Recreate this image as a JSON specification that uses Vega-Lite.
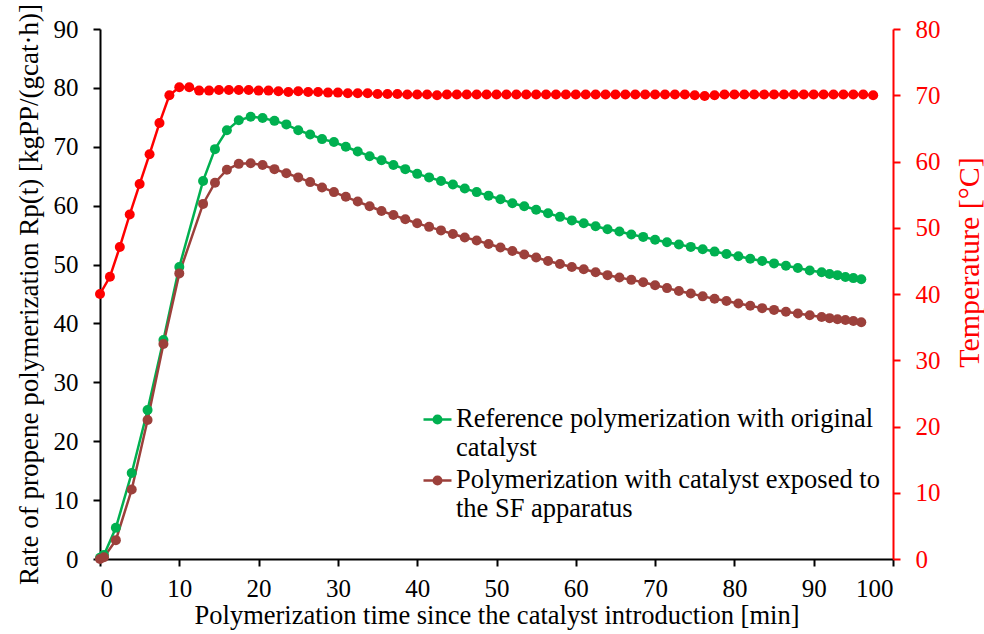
{
  "$schema": "https://vega.github.io/schema/vega-lite/v6.json",
  "autosize": {"type": "none"},
  "width": 793,
  "height": 530,
  "padding": {"left": 100, "top": 29, "right": 91, "bottom": 75},
  "background": "white",
  "config": {
    "view": {"stroke": null},
    "axis": {
      "grid": false,
      "labelFont": "Liberation Serif",
      "labelFontSize": 25,
      "labelColor": "black",
      "titleFont": "Liberation Serif",
      "titleFontSize": 26.5,
      "titleFontWeight": "normal",
      "titleColor": "black",
      "domainColor": "black",
      "domainWidth": 2,
      "tickColor": "black",
      "tickWidth": 2,
      "tickSize": 7
    },
    "legend": {
      "labelFont": "Liberation Serif",
      "labelFontSize": 26.5,
      "labelColor": "black",
      "labelLimit": 700
    }
  },
  "datasets": {
    "rate": [
      {"time": 0, "series": "Reference polymerization with original catalyst", "rate": 0.2},
      {"time": 0.5, "series": "Reference polymerization with original catalyst", "rate": 0.7},
      {"time": 2, "series": "Reference polymerization with original catalyst", "rate": 5.3},
      {"time": 4, "series": "Reference polymerization with original catalyst", "rate": 14.6},
      {"time": 6, "series": "Reference polymerization with original catalyst", "rate": 25.3},
      {"time": 8, "series": "Reference polymerization with original catalyst", "rate": 37.2},
      {"time": 10, "series": "Reference polymerization with original catalyst", "rate": 49.6},
      {"time": 13, "series": "Reference polymerization with original catalyst", "rate": 64.2},
      {"time": 14.5, "series": "Reference polymerization with original catalyst", "rate": 69.6},
      {"time": 16, "series": "Reference polymerization with original catalyst", "rate": 72.8},
      {"time": 17.5, "series": "Reference polymerization with original catalyst", "rate": 74.5},
      {"time": 19, "series": "Reference polymerization with original catalyst", "rate": 75.1},
      {"time": 20.5, "series": "Reference polymerization with original catalyst", "rate": 74.9},
      {"time": 22, "series": "Reference polymerization with original catalyst", "rate": 74.4},
      {"time": 23.5, "series": "Reference polymerization with original catalyst", "rate": 73.8},
      {"time": 25, "series": "Reference polymerization with original catalyst", "rate": 72.8},
      {"time": 26.5, "series": "Reference polymerization with original catalyst", "rate": 72.1},
      {"time": 28, "series": "Reference polymerization with original catalyst", "rate": 71.3},
      {"time": 29.5, "series": "Reference polymerization with original catalyst", "rate": 70.8},
      {"time": 31, "series": "Reference polymerization with original catalyst", "rate": 70.0},
      {"time": 32.5, "series": "Reference polymerization with original catalyst", "rate": 69.2},
      {"time": 34, "series": "Reference polymerization with original catalyst", "rate": 68.4},
      {"time": 35.5, "series": "Reference polymerization with original catalyst", "rate": 67.7},
      {"time": 37, "series": "Reference polymerization with original catalyst", "rate": 66.9},
      {"time": 38.5, "series": "Reference polymerization with original catalyst", "rate": 66.2},
      {"time": 40, "series": "Reference polymerization with original catalyst", "rate": 65.4},
      {"time": 41.5, "series": "Reference polymerization with original catalyst", "rate": 64.8},
      {"time": 43, "series": "Reference polymerization with original catalyst", "rate": 64.2},
      {"time": 44.5, "series": "Reference polymerization with original catalyst", "rate": 63.6},
      {"time": 46, "series": "Reference polymerization with original catalyst", "rate": 62.9},
      {"time": 47.5, "series": "Reference polymerization with original catalyst", "rate": 62.3},
      {"time": 49, "series": "Reference polymerization with original catalyst", "rate": 61.7},
      {"time": 50.5, "series": "Reference polymerization with original catalyst", "rate": 61.1},
      {"time": 52, "series": "Reference polymerization with original catalyst", "rate": 60.4},
      {"time": 53.5, "series": "Reference polymerization with original catalyst", "rate": 59.9},
      {"time": 55, "series": "Reference polymerization with original catalyst", "rate": 59.3},
      {"time": 56.5, "series": "Reference polymerization with original catalyst", "rate": 58.7},
      {"time": 58, "series": "Reference polymerization with original catalyst", "rate": 58.1},
      {"time": 59.5, "series": "Reference polymerization with original catalyst", "rate": 57.5},
      {"time": 61, "series": "Reference polymerization with original catalyst", "rate": 57.0},
      {"time": 62.5, "series": "Reference polymerization with original catalyst", "rate": 56.5},
      {"time": 64, "series": "Reference polymerization with original catalyst", "rate": 56.0},
      {"time": 65.5, "series": "Reference polymerization with original catalyst", "rate": 55.6},
      {"time": 67, "series": "Reference polymerization with original catalyst", "rate": 55.1},
      {"time": 68.5, "series": "Reference polymerization with original catalyst", "rate": 54.7},
      {"time": 70, "series": "Reference polymerization with original catalyst", "rate": 54.2},
      {"time": 71.5, "series": "Reference polymerization with original catalyst", "rate": 53.8},
      {"time": 73, "series": "Reference polymerization with original catalyst", "rate": 53.4},
      {"time": 74.5, "series": "Reference polymerization with original catalyst", "rate": 53.0},
      {"time": 76, "series": "Reference polymerization with original catalyst", "rate": 52.6},
      {"time": 77.5, "series": "Reference polymerization with original catalyst", "rate": 52.2},
      {"time": 79, "series": "Reference polymerization with original catalyst", "rate": 51.8},
      {"time": 80.5, "series": "Reference polymerization with original catalyst", "rate": 51.4},
      {"time": 82, "series": "Reference polymerization with original catalyst", "rate": 51.0},
      {"time": 83.5, "series": "Reference polymerization with original catalyst", "rate": 50.6},
      {"time": 85, "series": "Reference polymerization with original catalyst", "rate": 50.2},
      {"time": 86.5, "series": "Reference polymerization with original catalyst", "rate": 49.8},
      {"time": 88, "series": "Reference polymerization with original catalyst", "rate": 49.4},
      {"time": 89.5, "series": "Reference polymerization with original catalyst", "rate": 49.0},
      {"time": 91, "series": "Reference polymerization with original catalyst", "rate": 48.7},
      {"time": 92, "series": "Reference polymerization with original catalyst", "rate": 48.4},
      {"time": 93, "series": "Reference polymerization with original catalyst", "rate": 48.2},
      {"time": 94, "series": "Reference polymerization with original catalyst", "rate": 47.9},
      {"time": 95, "series": "Reference polymerization with original catalyst", "rate": 47.7},
      {"time": 96, "series": "Reference polymerization with original catalyst", "rate": 47.5},
      {"time": 0, "series": "Polymerization with catalyst exposed to the SF apparatus", "rate": 0.0},
      {"time": 0.5, "series": "Polymerization with catalyst exposed to the SF apparatus", "rate": 0.3},
      {"time": 2, "series": "Polymerization with catalyst exposed to the SF apparatus", "rate": 3.2},
      {"time": 4, "series": "Polymerization with catalyst exposed to the SF apparatus", "rate": 11.8},
      {"time": 6, "series": "Polymerization with catalyst exposed to the SF apparatus", "rate": 23.6},
      {"time": 8, "series": "Polymerization with catalyst exposed to the SF apparatus", "rate": 36.5},
      {"time": 10, "series": "Polymerization with catalyst exposed to the SF apparatus", "rate": 48.5},
      {"time": 13, "series": "Polymerization with catalyst exposed to the SF apparatus", "rate": 60.3},
      {"time": 14.5, "series": "Polymerization with catalyst exposed to the SF apparatus", "rate": 63.9},
      {"time": 16, "series": "Polymerization with catalyst exposed to the SF apparatus", "rate": 66.1},
      {"time": 17.5, "series": "Polymerization with catalyst exposed to the SF apparatus", "rate": 67.1},
      {"time": 19, "series": "Polymerization with catalyst exposed to the SF apparatus", "rate": 67.2},
      {"time": 20.5, "series": "Polymerization with catalyst exposed to the SF apparatus", "rate": 66.9},
      {"time": 22, "series": "Polymerization with catalyst exposed to the SF apparatus", "rate": 66.2},
      {"time": 23.5, "series": "Polymerization with catalyst exposed to the SF apparatus", "rate": 65.5},
      {"time": 25, "series": "Polymerization with catalyst exposed to the SF apparatus", "rate": 64.8},
      {"time": 26.5, "series": "Polymerization with catalyst exposed to the SF apparatus", "rate": 64.0},
      {"time": 28, "series": "Polymerization with catalyst exposed to the SF apparatus", "rate": 63.1},
      {"time": 29.5, "series": "Polymerization with catalyst exposed to the SF apparatus", "rate": 62.3},
      {"time": 31, "series": "Polymerization with catalyst exposed to the SF apparatus", "rate": 61.5},
      {"time": 32.5, "series": "Polymerization with catalyst exposed to the SF apparatus", "rate": 60.7},
      {"time": 34, "series": "Polymerization with catalyst exposed to the SF apparatus", "rate": 59.9},
      {"time": 35.5, "series": "Polymerization with catalyst exposed to the SF apparatus", "rate": 59.1},
      {"time": 37, "series": "Polymerization with catalyst exposed to the SF apparatus", "rate": 58.4},
      {"time": 38.5, "series": "Polymerization with catalyst exposed to the SF apparatus", "rate": 57.7},
      {"time": 40, "series": "Polymerization with catalyst exposed to the SF apparatus", "rate": 57.0},
      {"time": 41.5, "series": "Polymerization with catalyst exposed to the SF apparatus", "rate": 56.4},
      {"time": 43, "series": "Polymerization with catalyst exposed to the SF apparatus", "rate": 55.8},
      {"time": 44.5, "series": "Polymerization with catalyst exposed to the SF apparatus", "rate": 55.2},
      {"time": 46, "series": "Polymerization with catalyst exposed to the SF apparatus", "rate": 54.6},
      {"time": 47.5, "series": "Polymerization with catalyst exposed to the SF apparatus", "rate": 54.1},
      {"time": 49, "series": "Polymerization with catalyst exposed to the SF apparatus", "rate": 53.5},
      {"time": 50.5, "series": "Polymerization with catalyst exposed to the SF apparatus", "rate": 52.9},
      {"time": 52, "series": "Polymerization with catalyst exposed to the SF apparatus", "rate": 52.3},
      {"time": 53.5, "series": "Polymerization with catalyst exposed to the SF apparatus", "rate": 51.7},
      {"time": 55, "series": "Polymerization with catalyst exposed to the SF apparatus", "rate": 51.2},
      {"time": 56.5, "series": "Polymerization with catalyst exposed to the SF apparatus", "rate": 50.6},
      {"time": 58, "series": "Polymerization with catalyst exposed to the SF apparatus", "rate": 50.1},
      {"time": 59.5, "series": "Polymerization with catalyst exposed to the SF apparatus", "rate": 49.6},
      {"time": 61, "series": "Polymerization with catalyst exposed to the SF apparatus", "rate": 49.2},
      {"time": 62.5, "series": "Polymerization with catalyst exposed to the SF apparatus", "rate": 48.7},
      {"time": 64, "series": "Polymerization with catalyst exposed to the SF apparatus", "rate": 48.2},
      {"time": 65.5, "series": "Polymerization with catalyst exposed to the SF apparatus", "rate": 47.8},
      {"time": 67, "series": "Polymerization with catalyst exposed to the SF apparatus", "rate": 47.4},
      {"time": 68.5, "series": "Polymerization with catalyst exposed to the SF apparatus", "rate": 47.0},
      {"time": 70, "series": "Polymerization with catalyst exposed to the SF apparatus", "rate": 46.5},
      {"time": 71.5, "series": "Polymerization with catalyst exposed to the SF apparatus", "rate": 46.0},
      {"time": 73, "series": "Polymerization with catalyst exposed to the SF apparatus", "rate": 45.5},
      {"time": 74.5, "series": "Polymerization with catalyst exposed to the SF apparatus", "rate": 45.1},
      {"time": 76, "series": "Polymerization with catalyst exposed to the SF apparatus", "rate": 44.6},
      {"time": 77.5, "series": "Polymerization with catalyst exposed to the SF apparatus", "rate": 44.2},
      {"time": 79, "series": "Polymerization with catalyst exposed to the SF apparatus", "rate": 43.8},
      {"time": 80.5, "series": "Polymerization with catalyst exposed to the SF apparatus", "rate": 43.4},
      {"time": 82, "series": "Polymerization with catalyst exposed to the SF apparatus", "rate": 43.0},
      {"time": 83.5, "series": "Polymerization with catalyst exposed to the SF apparatus", "rate": 42.6},
      {"time": 85, "series": "Polymerization with catalyst exposed to the SF apparatus", "rate": 42.3},
      {"time": 86.5, "series": "Polymerization with catalyst exposed to the SF apparatus", "rate": 42.0},
      {"time": 88, "series": "Polymerization with catalyst exposed to the SF apparatus", "rate": 41.7},
      {"time": 89.5, "series": "Polymerization with catalyst exposed to the SF apparatus", "rate": 41.4},
      {"time": 91, "series": "Polymerization with catalyst exposed to the SF apparatus", "rate": 41.1},
      {"time": 92, "series": "Polymerization with catalyst exposed to the SF apparatus", "rate": 40.9},
      {"time": 93, "series": "Polymerization with catalyst exposed to the SF apparatus", "rate": 40.7},
      {"time": 94, "series": "Polymerization with catalyst exposed to the SF apparatus", "rate": 40.6},
      {"time": 95, "series": "Polymerization with catalyst exposed to the SF apparatus", "rate": 40.4},
      {"time": 96, "series": "Polymerization with catalyst exposed to the SF apparatus", "rate": 40.2}
    ],
    "temperature": [
      {"time": 0, "temp": 40.0},
      {"time": 1.25, "temp": 42.6},
      {"time": 2.5, "temp": 47.1},
      {"time": 3.75, "temp": 52.0},
      {"time": 5, "temp": 56.6},
      {"time": 6.25, "temp": 61.1},
      {"time": 7.5, "temp": 65.8},
      {"time": 8.75, "temp": 70.0},
      {"time": 10, "temp": 71.2},
      {"time": 11.25, "temp": 71.2},
      {"time": 12.5, "temp": 70.7},
      {"time": 13.75, "temp": 70.7},
      {"time": 15, "temp": 70.8},
      {"time": 16.25, "temp": 70.8},
      {"time": 17.5, "temp": 70.8},
      {"time": 18.75, "temp": 70.8},
      {"time": 20, "temp": 70.7},
      {"time": 21.25, "temp": 70.7},
      {"time": 22.5, "temp": 70.6},
      {"time": 23.75, "temp": 70.5},
      {"time": 25, "temp": 70.6},
      {"time": 26.25, "temp": 70.5},
      {"time": 27.5, "temp": 70.5},
      {"time": 28.75, "temp": 70.4},
      {"time": 30, "temp": 70.4},
      {"time": 31.25, "temp": 70.3},
      {"time": 32.5, "temp": 70.3},
      {"time": 33.75, "temp": 70.3},
      {"time": 35, "temp": 70.2},
      {"time": 36.25, "temp": 70.2},
      {"time": 37.5, "temp": 70.2},
      {"time": 38.75, "temp": 70.1},
      {"time": 40, "temp": 70.1},
      {"time": 41.25, "temp": 70.1},
      {"time": 42.5, "temp": 70.0},
      {"time": 43.75, "temp": 70.1},
      {"time": 45, "temp": 70.1},
      {"time": 46.25, "temp": 70.1},
      {"time": 47.5, "temp": 70.1},
      {"time": 48.75, "temp": 70.1},
      {"time": 50, "temp": 70.1},
      {"time": 51.25, "temp": 70.1},
      {"time": 52.5, "temp": 70.1},
      {"time": 53.75, "temp": 70.1},
      {"time": 55, "temp": 70.1},
      {"time": 56.25, "temp": 70.1},
      {"time": 57.5, "temp": 70.1},
      {"time": 58.75, "temp": 70.1},
      {"time": 60, "temp": 70.1},
      {"time": 61.25, "temp": 70.1},
      {"time": 62.5, "temp": 70.1},
      {"time": 63.75, "temp": 70.1},
      {"time": 65, "temp": 70.1},
      {"time": 66.25, "temp": 70.1},
      {"time": 67.5, "temp": 70.1},
      {"time": 68.75, "temp": 70.1},
      {"time": 70, "temp": 70.1},
      {"time": 71.25, "temp": 70.1},
      {"time": 72.5, "temp": 70.1},
      {"time": 73.75, "temp": 70.1},
      {"time": 75, "temp": 70.0},
      {"time": 76.25, "temp": 69.9},
      {"time": 77.5, "temp": 70.0},
      {"time": 78.75, "temp": 70.1},
      {"time": 80, "temp": 70.1},
      {"time": 81.25, "temp": 70.1},
      {"time": 82.5, "temp": 70.1},
      {"time": 83.75, "temp": 70.1},
      {"time": 85, "temp": 70.1},
      {"time": 86.25, "temp": 70.1},
      {"time": 87.5, "temp": 70.1},
      {"time": 88.75, "temp": 70.1},
      {"time": 90, "temp": 70.1},
      {"time": 91.25, "temp": 70.1},
      {"time": 92.5, "temp": 70.1},
      {"time": 93.75, "temp": 70.1},
      {"time": 95, "temp": 70.1},
      {"time": 96.25, "temp": 70.1},
      {"time": 97.5, "temp": 70.0}
    ]
  },
  "layer": [
    {
      "data": {"name": "rate"},
      "mark": {"type": "line", "strokeWidth": 2.5, "point": {"filled": true, "size": 100, "opacity": 1}},
      "encoding": {
        "x": {
          "field": "time", "type": "quantitative",
          "scale": {"domain": [0, 100], "nice": false},
          "axis": {"values": [0, 10, 20, 30, 40, 50, 60, 70, 80, 90, 100], "labelPadding": 10, "titlePadding": 1,
                   "title": "Polymerization time since the catalyst introduction [min]"}
        },
        "y": {
          "field": "rate", "type": "quantitative",
          "scale": {"domain": [0, 90], "nice": false},
          "axis": {"values": [0, 10, 20, 30, 40, 50, 60, 70, 80, 90], "labelPadding": 15, "titlePadding": 10,
                   "titleFontSize": 27,
                   "title": "Rate of propene polymerization Rp(t) [kgPP/(gcat·h)]"}
        },
        "color": {
          "field": "series", "type": "nominal",
          "scale": {
            "domain": ["Reference polymerization with original catalyst", "Polymerization with catalyst exposed to the SF apparatus"],
            "range": ["#00B050", "#9C403B"]
          },
          "legend": {
            "title": null,
            "orient": "none",
            "legendX": 322,
            "legendY": 375,
            "symbolType": "M-1,0L1,0M-0.27,0A0.27,0.27 0 1,0 0.27,0A0.27,0.27 0 1,0 -0.27,0",
            "symbolSize": 784,
            "symbolStrokeWidth": 2.5,
            "labelBaseline": "top",
            "labelOffset": 3,
            "rowPadding": 3,
            "labelExpr": "datum.value == 'Reference polymerization with original catalyst' ? ['Reference polymerization with original', 'catalyst'] : ['Polymerization with catalyst exposed to', 'the SF apparatus']",
            "encoding": {
              "labels": {"dy": {"value": -14}, "lineHeight": {"value": 29.5}}
            }
          }
        }
      }
    },
    {
      "data": {"name": "temperature"},
      "mark": {"type": "line", "color": "#FF0000", "strokeWidth": 2.5, "point": {"filled": true, "size": 100, "color": "#FF0000", "opacity": 1}},
      "encoding": {
        "x": {"field": "time", "type": "quantitative"},
        "y": {
          "field": "temp", "type": "quantitative",
          "scale": {"domain": [0, 80], "nice": false},
          "axis": {
            "orient": "right",
            "values": [0, 10, 20, 30, 40, 50, 60, 70, 80],
            "title": "Temperature [°C]",
            "titleFontSize": 30,
            "titleAngle": -90,
            "titleBaseline": "top",
            "titleY": 233,
            "titleColor": "#FF0000",
            "labelColor": "#FF0000",
            "domainColor": "#FF0000",
            "tickColor": "#FF0000",
            "labelPadding": 15,
            "titlePadding": 14
          }
        }
      }
    }
  ],
  "resolve": {"scale": {"y": "independent"}}
}
